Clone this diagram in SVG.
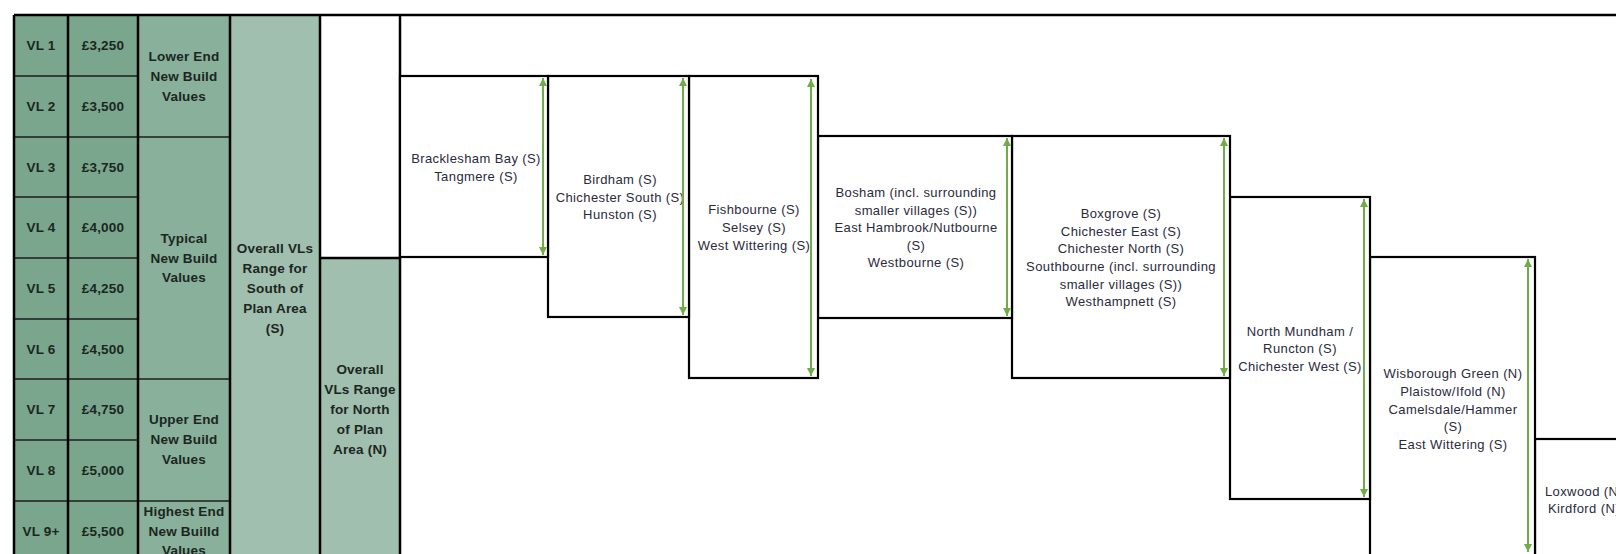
<svg xmlns="http://www.w3.org/2000/svg" width="1616" height="554" viewBox="0 0 1616 554">
<style>
.c1{fill:#79a68d}
.c3{fill:#88b09b}
.c4{fill:#a0bfae}
.grid{stroke:#000;stroke-width:2.5;fill:none}
.rowl{stroke:#1e1e1e;stroke-width:1.5;fill:none}
.hd{font-family:"Liberation Sans",Arial,sans-serif;font-weight:bold;font-size:13.5px;fill:#1c2621;text-anchor:middle;letter-spacing:0.2px}
.box{fill:#fff;stroke:#000;stroke-width:2.2}
.lbl{font-family:"Liberation Sans",Arial,sans-serif;font-size:13px;fill:#2a2a3a;text-anchor:middle;letter-spacing:0.4px}
.arr{stroke:#70ad47;stroke-width:2;fill:none;marker-start:url(#ah);marker-end:url(#ah)}
</style>
<defs>
<marker id="ah" markerUnits="userSpaceOnUse" markerWidth="10" markerHeight="10" refX="8" refY="4" orient="auto-start-reverse">
<path d="M0,0 L8,4 L0,8 Z" fill="#70ad47"/>
</marker>
</defs>
<rect width="1616" height="554" fill="#fff"/>

<g id="table">
<rect class="c1" x="14" y="15" width="124" height="546"/>
<rect class="c3" x="138" y="15" width="92" height="546"/>
<rect class="c4" x="230" y="15" width="90" height="546"/>
<rect fill="#fff" x="320" y="15" width="80" height="243"/>
<rect class="c4" x="320" y="258" width="80" height="303"/>
<g class="rowl">
<path d="M14,76H138M14,137H230M14,197H138M14,258H138M14,319H138M14,379H230M14,440H138M14,501H230"/>
</g>
<g class="grid">
<path d="M14,15H1616M14,15V561M68,15V561M138,15V561M230,15V561M320,15V561M400,15V561M320,258H400"/>
</g>
<g id="vl-cells">
<text class="hd" x="41" y="50">VL 1</text><text class="hd" x="103" y="50">£3,250</text>
<text class="hd" x="41" y="111">VL 2</text><text class="hd" x="103" y="111">£3,500</text>
<text class="hd" x="41" y="172">VL 3</text><text class="hd" x="103" y="172">£3,750</text>
<text class="hd" x="41" y="232">VL 4</text><text class="hd" x="103" y="232">£4,000</text>
<text class="hd" x="41" y="293">VL 5</text><text class="hd" x="103" y="293">£4,250</text>
<text class="hd" x="41" y="354">VL 6</text><text class="hd" x="103" y="354">£4,500</text>
<text class="hd" x="41" y="414">VL 7</text><text class="hd" x="103" y="414">£4,750</text>
<text class="hd" x="41" y="475">VL 8</text><text class="hd" x="103" y="475">£5,000</text>
<text class="hd" x="41" y="536">VL 9+</text><text class="hd" x="103" y="536">£5,500</text>
</g>
<g id="bands">
<text class="hd" x="184" y="61">Lower End</text><text class="hd" x="184" y="81">New Build</text><text class="hd" x="184" y="101">Values</text>
<text class="hd" x="184" y="243">Typical</text><text class="hd" x="184" y="263">New Build</text><text class="hd" x="184" y="282">Values</text>
<text class="hd" x="184" y="424">Upper End</text><text class="hd" x="184" y="444">New Build</text><text class="hd" x="184" y="464">Values</text>
<text class="hd" x="184" y="516">Highest End</text><text class="hd" x="184" y="536">New Builld</text><text class="hd" x="184" y="555">Values</text>
</g>
<g id="south-range">
<text class="hd" x="275" y="253">Overall VLs</text><text class="hd" x="275" y="273">Range for</text><text class="hd" x="275" y="293">South of</text><text class="hd" x="275" y="313">Plan Area</text><text class="hd" x="275" y="333">(S)</text>
</g>
<g id="north-range">
<text class="hd" x="360" y="374">Overall</text><text class="hd" x="360" y="394">VLs Range</text><text class="hd" x="360" y="414">for North</text><text class="hd" x="360" y="434">of Plan</text><text class="hd" x="360" y="454">Area (N)</text>
</g>
</g>

<g id="box8"><rect class="box" x="1535" y="439" width="110" height="130"/>
<text class="lbl" x="1584" y="496">Loxwood (N)</text><text class="lbl" x="1584" y="513">Kirdford (N)</text></g>
<g id="box7"><rect class="box" x="1370" y="257" width="165" height="312"/>
<text class="lbl" x="1453" y="378">Wisborough Green (N)</text><text class="lbl" x="1453" y="396">Plaistow/Ifold (N)</text><text class="lbl" x="1453" y="414">Camelsdale/Hammer</text><text class="lbl" x="1453" y="431">(S)</text><text class="lbl" x="1453" y="449">East Wittering (S)</text></g>
<g id="box6"><rect class="box" x="1230" y="197" width="140" height="302"/>
<text class="lbl" x="1300" y="336">North Mundham /</text><text class="lbl" x="1300" y="353">Runcton (S)</text><text class="lbl" x="1300" y="371">Chichester West (S)</text></g>
<g id="box5"><rect class="box" x="1012" y="136" width="218" height="242"/>
<text class="lbl" x="1121" y="218">Boxgrove (S)</text><text class="lbl" x="1121" y="236">Chichester East (S)</text><text class="lbl" x="1121" y="253">Chichester North (S)</text><text class="lbl" x="1121" y="271">Southbourne (incl. surrounding</text><text class="lbl" x="1121" y="289">smaller villages (S))</text><text class="lbl" x="1121" y="306">Westhampnett (S)</text></g>
<g id="box4"><rect class="box" x="818" y="136" width="194" height="182"/>
<text class="lbl" x="916" y="197">Bosham (incl. surrounding</text><text class="lbl" x="916" y="215">smaller villages (S))</text><text class="lbl" x="916" y="232">East Hambrook/Nutbourne</text><text class="lbl" x="916" y="250">(S)</text><text class="lbl" x="916" y="267">Westbourne (S)</text></g>
<g id="box3"><rect class="box" x="689" y="76" width="129" height="302"/>
<text class="lbl" x="754" y="214">Fishbourne (S)</text><text class="lbl" x="754" y="232">Selsey (S)</text><text class="lbl" x="754" y="250">West Wittering (S)</text></g>
<g id="box2"><rect class="box" x="548" y="76" width="141" height="241"/>
<text class="lbl" x="620" y="184">Birdham (S)</text><text class="lbl" x="620" y="202">Chichester South (S)</text><text class="lbl" x="620" y="219">Hunston (S)</text></g>
<g id="box1"><rect class="box" x="400" y="76" width="148" height="181"/>
<text class="lbl" x="476" y="163">Bracklesham Bay (S)</text><text class="lbl" x="476" y="181">Tangmere (S)</text></g>

<g id="connectors">
<path class="arr" d="M543,78V255"/>
<path class="arr" d="M683,78V315"/>
<path class="arr" d="M811,79V376"/>
<path class="arr" d="M1007,138V316"/>
<path class="arr" d="M1224,138V376"/>
<path class="arr" d="M1364,199V497"/>
<path class="arr" d="M1528,259V552"/>
</g>
</svg>
